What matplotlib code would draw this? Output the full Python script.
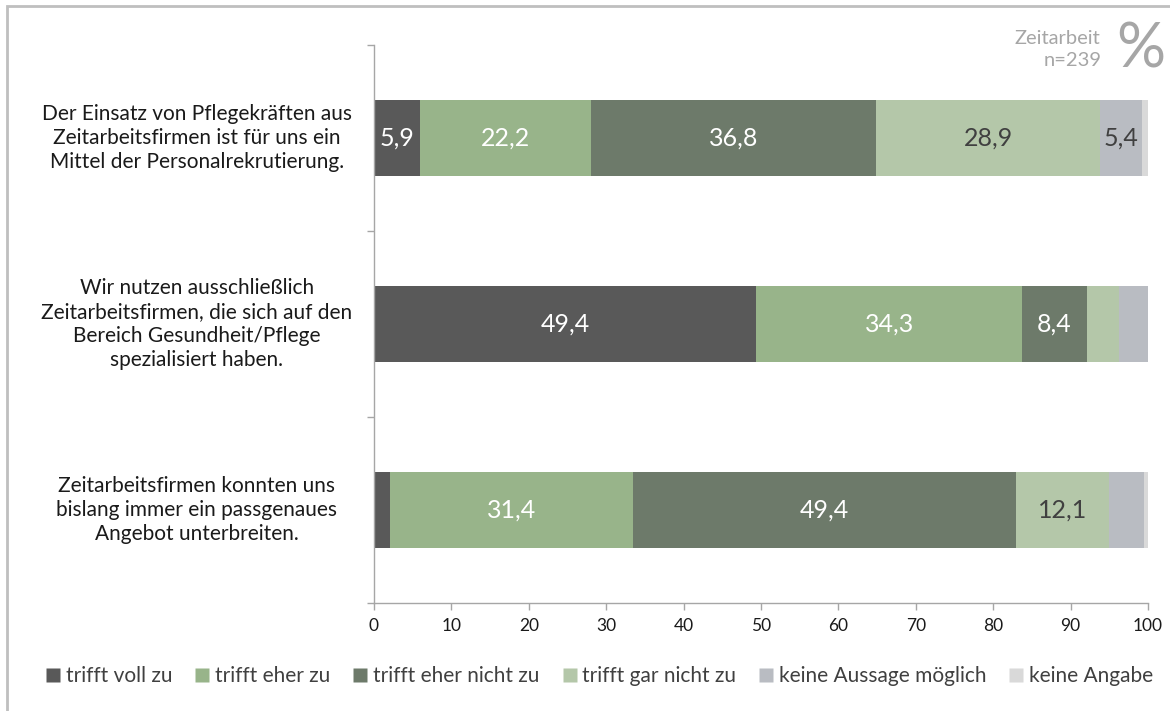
import matplotlib
matplotlib.use("Agg")
import matplotlib.pyplot as plt
from matplotlib.patches import Rectangle
from matplotlib.lines import Line2D
import numpy as np

plt.rcParams['font.family'] = ['Lato', 'DejaVu Sans']

statements = [
    "Der Einsatz von Pflegekräften aus\nZeitarbeitsfirmen ist für uns ein\nMittel der Personalrekrutierung.",
    "Wir nutzen ausschließlich\nZeitarbeitsfirmen, die sich auf den\nBereich Gesundheit/Pflege\nspezialisiert haben.",
    "Zeitarbeitsfirmen konnten uns\nbislang immer ein passgenaues\nAngebot unterbreiten.",
]
answers = ["trifft voll zu", "trifft eher zu", "trifft eher nicht zu",
           "trifft gar nicht zu", "keine Aussage möglich", "keine Angabe"]

voll_zu = [5.9, 49.4, 2.1]
eher_zu = [22.2, 34.3, 31.4]
eher_nicht_zu = [36.8, 8.4, 49.4]
gar_nicht_zu = [28.9, 4.2, 12.1]
keine_aussage = [5.4, 3.7, 4.5]
keine_angabe = [0.8, 0.0, 0.5]

# values below this are drawn without a label
label_min = 5.0

colors = ["#595959", "#98b48a", "#6d7a6a", "#b4c7a9", "#b9bcc2", "#d9d9d9"]
text_colors = ["white", "white", "white", "#404040", "#404040", "#404040"]

series = [voll_zu, eher_zu, eher_nicht_zu, gar_nicht_zu, keine_aussage, keine_angabe]

fig = plt.figure(figsize=(11.7, 7.11), dpi=100)
ax = fig.add_axes([374/1170, 1 - 603/711, (1148 - 374)/1170, (603 - 45)/711])

y = np.arange(len(statements))
left = np.zeros(len(statements))
for vals, col, tcol in zip(series, colors, text_colors):
    vals = np.array(vals)
    ax.barh(y, vals, left=left, height=0.405, color=col, edgecolor='none')
    for yi, v, l in zip(y, vals, left):
        if v >= label_min:
            ax.text(l + v / 2, yi, f"{v:.1f}".replace('.', ','), ha='center', va='center',
                    color=tcol, fontsize=18)
    left += vals

ax.set_xlim(0, 100)
ax.set_ylim(len(statements) - 0.5, -0.5)
ax.set_xticks(np.arange(0, 101, 10))
ax.tick_params(axis='x', colors='#a6a6a6', labelcolor='#1a1a1a', labelsize=12.5,
               length=5, width=1, pad=6)
ax.set_yticks(np.arange(-0.5, len(statements), 1.0))
ax.set_yticklabels([])
ax.tick_params(axis='y', colors='#a6a6a6', length=5, width=1)
for side in ['top', 'right']:
    ax.spines[side].set_visible(False)
for side in ['left', 'bottom']:
    ax.spines[side].set_color('#a6a6a6')
    ax.spines[side].set_linewidth(1)

for yi, s in zip(y, statements):
    ax.text(-0.229, yi, s, transform=ax.get_yaxis_transform(), ha='center', va='center',
            fontsize=15, color='#1a1a1a', linespacing=1.25)

# legend
handles = [Line2D([0], [0], marker='s', linestyle='none', markersize=10,
                  markerfacecolor=c, markeredgecolor='none') for c in colors]
fig.legend(handles, answers, loc='center', bbox_to_anchor=(599/1170, 1 - 676/711), ncol=6,
           frameon=False, fontsize=15, labelcolor='#404040', handletextpad=0.2,
           columnspacing=1.05, handlelength=0.8)

# header in the top-right corner
fig.text(1100/1170, 1 - 38/711, "Zeitarbeit", ha='right', va='center', fontsize=14.5, color='#a6a6a6')
fig.text(1102/1170, 1 - 61/711, "n=239", ha='right', va='center', fontsize=14.5, color='#a6a6a6')
fig.text(1116/1170, 1 - 50/711, "%", ha='left', va='center', fontsize=44, color='#a6a6a6')

# frame along the top and left edge
fig.add_artist(Rectangle((7/1170, -0.1), 1.2, (1 - 6/711) + 0.1, transform=fig.transFigure,
                         fill=False, edgecolor='#bfbfbf', linewidth=2))

fig.savefig("out.png", dpi=100)
